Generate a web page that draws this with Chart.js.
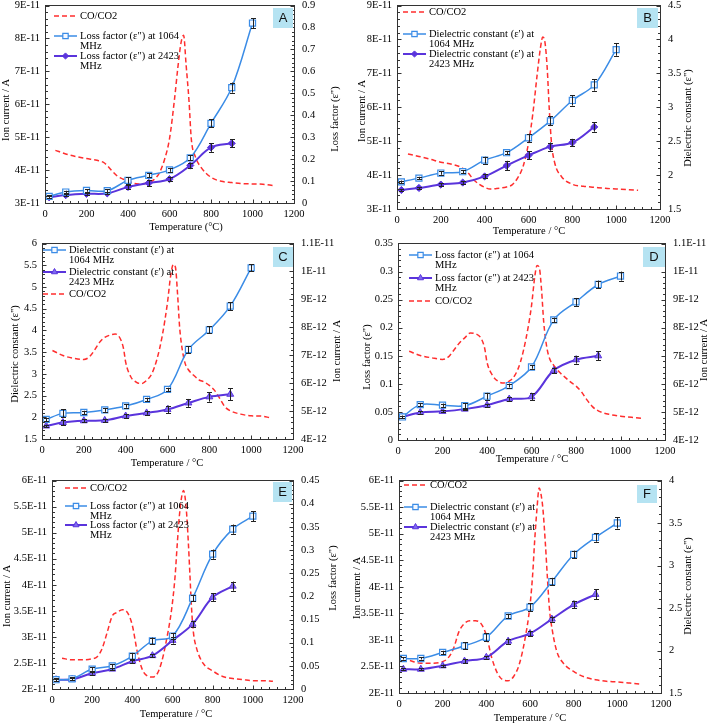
<!DOCTYPE html>
<html>
<head>
<meta charset="utf-8">
<script src="https://cdn.jsdelivr.net/npm/chart.js@4.4.0/dist/chart.umd.min.js"></script>
<style>
  body { margin: 0; background: #fff; width: 709px; height: 725px; position: relative; overflow: hidden; }
  .panel { position: absolute; }
</style>
</head>
<body>
<script>
// Temperatures of the dielectric measurements (°C)
const tempHigh = [20, 100, 200, 300, 400, 500, 600, 700, 800, 900, 1000];
const tempLow = [20, 100, 200, 300, 400, 500, 600, 700, 800, 900];

// Panel A - ion current x1E-11 A, loss factor
const coTempA = [50, 100, 150, 200, 250, 280, 300, 325, 350, 375, 400, 450, 500, 525, 550, 575, 600, 625, 640, 655, 668, 680, 694, 705, 725, 750, 800, 850, 900, 950, 1000, 1050, 1100];
const coA = [4.60, 4.49, 4.41, 4.35, 4.30, 4.24, 4.14, 3.96, 3.81, 3.73, 3.66, 3.58, 3.62, 3.71, 3.90, 4.30, 4.95, 6.20, 7.10, 7.85, 8.10, 7.20, 6.10, 4.95, 4.40, 4.10, 3.78, 3.66, 3.62, 3.59, 3.58, 3.57, 3.53];
const lossHighA = [0.030, 0.050, 0.057, 0.056, 0.103, 0.126, 0.151, 0.206, 0.363, 0.526, 0.820];
const lossHighErrA = [0.006, 0.006, 0.006, 0.006, 0.015, 0.009, 0.009, 0.012, 0.018, 0.023, 0.023];
const lossLowA = [0.026, 0.036, 0.042, 0.044, 0.073, 0.091, 0.109, 0.171, 0.253, 0.272];
const lossLowErrA = [0.005, 0.005, 0.005, 0.005, 0.009, 0.015, 0.009, 0.012, 0.020, 0.018];

// Panel B - ion current x1E-11 A, dielectric constant
const coTempB = [50, 100, 150, 200, 250, 300, 325, 350, 375, 400, 425, 450, 500, 525, 550, 575, 600, 620, 640, 655, 665, 675, 685, 695, 705, 720, 750, 800, 850, 900, 950, 1000, 1050, 1100];
const coB = [4.62, 4.55, 4.47, 4.38, 4.32, 4.20, 4.06, 3.86, 3.73, 3.64, 3.59, 3.60, 3.65, 3.71, 3.91, 4.25, 4.94, 5.82, 6.99, 7.77, 8.07, 7.92, 7.19, 5.92, 4.94, 4.35, 3.96, 3.73, 3.67, 3.64, 3.61, 3.59, 3.57, 3.55];
const dielHighB = [1.90, 1.955, 2.03, 2.05, 2.22, 2.33, 2.55, 2.80, 3.10, 3.33, 3.85];
const dielHighErrB = [0.02, 0.02, 0.025, 0.025, 0.05, 0.025, 0.06, 0.065, 0.075, 0.085, 0.09];
const dielLowB = [1.78, 1.81, 1.86, 1.89, 1.98, 2.14, 2.29, 2.42, 2.48, 2.71];
const dielLowErrB = [0.015, 0.015, 0.02, 0.02, 0.03, 0.07, 0.06, 0.06, 0.05, 0.07];

// Panel C - dielectric constant, ion current x1E-12 A
const coTempC = [50, 100, 150, 200, 225, 250, 275, 300, 325, 350, 375, 390, 400, 425, 450, 475, 500, 525, 550, 575, 600, 615, 628, 638, 648, 658, 670, 685, 700, 725, 750, 775, 800, 825, 850, 875, 900, 950, 1000, 1050, 1090];
const coC = [7.17, 6.99, 6.89, 6.85, 6.93, 7.17, 7.46, 7.64, 7.72, 7.76, 7.58, 7.23, 6.75, 6.22, 6.04, 5.98, 6.10, 6.34, 6.87, 7.70, 8.89, 9.84, 10.25, 10.15, 9.20, 8.00, 7.23, 6.69, 6.48, 6.28, 6.12, 6.04, 5.92, 5.74, 5.45, 5.15, 5.01, 4.89, 4.83, 4.82, 4.76];
const dielHighC = [1.95, 2.09, 2.11, 2.17, 2.26, 2.41, 2.64, 3.56, 4.01, 4.56, 5.44];
const dielHighErrC = [0.04, 0.09, 0.04, 0.045, 0.04, 0.04, 0.04, 0.08, 0.08, 0.09, 0.08];
const dielLowC = [1.80, 1.88, 1.92, 1.93, 2.03, 2.10, 2.18, 2.33, 2.47, 2.53];
const dielLowErrC = [0.03, 0.06, 0.04, 0.04, 0.04, 0.04, 0.09, 0.09, 0.11, 0.14];

// Panel D - loss factor, ion current x1E-12 A
const coTempD = [50, 100, 150, 200, 225, 250, 275, 300, 325, 350, 375, 390, 400, 425, 450, 475, 500, 525, 550, 575, 600, 615, 625, 635, 645, 655, 670, 685, 700, 725, 750, 775, 800, 825, 850, 875, 900, 950, 1000, 1050, 1100];
const coD = [7.16, 7.01, 6.93, 6.87, 6.95, 7.19, 7.45, 7.64, 7.81, 7.78, 7.60, 7.25, 6.77, 6.30, 6.09, 6.03, 6.10, 6.30, 6.77, 7.60, 8.78, 9.84, 10.22, 10.14, 9.37, 8.19, 7.25, 6.83, 6.66, 6.42, 6.24, 6.07, 5.92, 5.71, 5.42, 5.18, 5.04, 4.91, 4.85, 4.81, 4.77];
const lossHighD = [0.041, 0.063, 0.062, 0.061, 0.078, 0.097, 0.130, 0.214, 0.246, 0.277, 0.292];
const lossHighErrD = [0.0025, 0.003, 0.003, 0.005, 0.006, 0.0035, 0.003, 0.004, 0.007, 0.007, 0.008];
const lossLowD = [0.041, 0.049, 0.051, 0.055, 0.062, 0.073, 0.077, 0.124, 0.143, 0.150];
const lossLowErrD = [0.002, 0.002, 0.002, 0.002, 0.0025, 0.003, 0.006, 0.005, 0.007, 0.008];

// Panel E - ion current x1E-11 A, loss factor
const coTempE = [50, 100, 150, 200, 225, 250, 275, 300, 325, 350, 375, 400, 425, 450, 475, 500, 525, 546, 568, 596, 613, 624, 637, 655, 669, 679, 687, 695, 704, 720, 753, 803, 850, 900, 950, 1000, 1050, 1100];
const coE = [2.59, 2.56, 2.56, 2.58, 2.62, 2.78, 3.09, 3.40, 3.47, 3.52, 3.47, 3.22, 2.71, 2.37, 2.25, 2.23, 2.30, 2.52, 2.90, 3.54, 4.17, 4.80, 5.43, 5.81, 5.43, 4.80, 4.17, 3.54, 3.09, 2.78, 2.49, 2.34, 2.24, 2.20, 2.18, 2.16, 2.16, 2.15];
const lossHighE = [0.020, 0.022, 0.043, 0.050, 0.071, 0.104, 0.114, 0.196, 0.291, 0.345, 0.373];
const lossHighErrE = [0.003, 0.003, 0.0035, 0.004, 0.007, 0.007, 0.007, 0.007, 0.010, 0.010, 0.011];
const lossLowE = [0.020, 0.021, 0.034, 0.043, 0.060, 0.072, 0.105, 0.140, 0.198, 0.222];
const lossLowErrE = [0.002, 0.002, 0.003, 0.003, 0.0035, 0.0035, 0.007, 0.007, 0.0085, 0.010];

// Panel F - ion current x1E-11 A, dielectric constant
const coTempF = [50, 100, 150, 200, 225, 250, 275, 300, 325, 350, 375, 400, 425, 450, 475, 500, 525, 550, 575, 600, 612, 621, 632, 642, 650, 659, 670, 679, 689, 703, 723, 753, 806, 850, 900, 950, 1000, 1050, 1100];
const coF = [2.61, 2.56, 2.56, 2.59, 2.66, 2.84, 3.16, 3.31, 3.36, 3.36, 3.31, 3.09, 2.66, 2.38, 2.25, 2.23, 2.31, 2.53, 2.97, 3.65, 4.22, 4.84, 5.47, 5.86, 5.75, 5.47, 4.84, 4.22, 3.59, 3.16, 2.78, 2.56, 2.39, 2.30, 2.25, 2.22, 2.21, 2.19, 2.17];
const dielHighF = [1.906, 1.906, 1.977, 2.055, 2.156, 2.406, 2.51, 2.81, 3.13, 3.33, 3.50];
const dielHighErrF = [0.012, 0.012, 0.02, 0.04, 0.045, 0.025, 0.045, 0.045, 0.045, 0.05, 0.065];
const dielLowF = [1.78, 1.78, 1.82, 1.875, 1.92, 2.11, 2.20, 2.37, 2.54, 2.66];
const dielLowErrF = [0.012, 0.012, 0.015, 0.025, 0.015, 0.03, 0.03, 0.03, 0.045, 0.06];

const lossHighText = ['Loss factor (ε") at 1064', 'MHz'];
const lossLowText = ['Loss factor (ε") at 2423', 'MHz'];
const dielHighText = ['Dielectric constant (ε\') at', '1064 MHz'];
const dielLowText = ['Dielectric constant (ε\') at', '2423 MHz'];

const SERIF = "'Liberation Serif', 'Times New Roman', serif";
const SANS = "'Liberation Sans', Arial, sans-serif";
const RED = '#ff2e2e';
const BLUE = '#3b8ce6';
const PURPLE = '#5a34dc';

// Excel-like tick label formats
function sci(v) {
  if (Math.abs(v) < 1e-30) return '0';
  let e = Math.floor(Math.log10(v));
  let m = Math.round(v / Math.pow(10, e) * 100) / 100;
  if (m >= 10) { m = m / 10; e += 1; }
  return m + 'E' + e;
}
const plain = v => String(+Number(v).toFixed(4));
const ion = unit => v => sci(v * unit);

const panels = [
  { letter: 'A', canvas: [0, 0, 352, 238], area: [45, 5, 294, 203], ionSide: 'left',
    left: { min: 3, max: 9, step: 1, fmt: ion(1e-11) }, right: { min: 0, max: 0.9, step: 0.1, fmt: plain },
    coT: coTempA, co: coA, hi: lossHighA, hiErr: lossHighErrA, lo: lossLowA, loErr: lossLowErrA, loMarker: 'rectRot',
    box: [273, 8, 20, 20],
    titles: { left: ['Ion current / A', 6, 110], right: ['Loss factor (ε")', 335, 119], bottom: ['Temperature (°C)', 186, 227] },
    legendX: [54, 77, 80], legend: [[0, ['CO/CO2'], 16], [1, lossHighText, 36], [2, lossLowText, 56]] },
  { letter: 'B', canvas: [352, 0, 357, 238], area: [397, 5, 660, 209], ionSide: 'left',
    left: { min: 3, max: 9, step: 1, fmt: ion(1e-11) }, right: { min: 1.5, max: 4.5, step: 0.5, fmt: plain },
    coT: coTempB, co: coB, hi: dielHighB, hiErr: dielHighErrB, lo: dielLowB, loErr: dielLowErrB, loMarker: 'rectRot',
    box: [637, 8, 21, 20],
    titles: { left: ['Ion current / A', 362, 111], right: ['Dielectric constant (ε")', 688, 118], bottom: ['Temperature / °C', 529, 231] },
    legendX: [403, 426, 429], legend: [[0, ['CO/CO2'], 12], [1, dielHighText, 34], [2, dielLowText, 54]] },
  { letter: 'C', canvas: [0, 238, 352, 237], area: [42, 242, 293, 439], ionSide: 'right',
    left: { min: 1.5, max: 6, step: 0.5, fmt: plain }, right: { min: 4, max: 11, step: 1, fmt: ion(1e-12) },
    coT: coTempC, co: coC, hi: dielHighC, hiErr: dielHighErrC, lo: dielLowC, loErr: dielLowErrC, loMarker: 'triangle',
    box: [273, 247, 20, 20],
    titles: { left: ['Dielectric constant (ε")', 15, 354], right: ['Ion current / A', 337, 351], bottom: ['Temperature / °C', 167, 463] },
    legendX: [43, 66, 69], legend: [[1, dielHighText, 250], [2, dielLowText, 272], [0, ['CO/CO2'], 294]] },
  { letter: 'D', canvas: [352, 238, 357, 237], area: [398, 242, 665, 440], ionSide: 'right',
    left: { min: 0, max: 0.35, step: 0.05, fmt: plain }, right: { min: 4, max: 11, step: 1, fmt: ion(1e-12) },
    coT: coTempD, co: coD, hi: lossHighD, hiErr: lossHighErrD, lo: lossLowD, loErr: lossLowErrD, loMarker: 'triangle',
    box: [643, 247, 22, 20],
    titles: { left: ['Loss factor (ε")', 367, 357], right: ['Ion current / A', 704, 350], bottom: ['Temperature / °C', 532, 459] },
    legendX: [409, 432, 435], legend: [[1, lossHighText, 255], [2, lossLowText, 278], [0, ['CO/CO2'], 301]] },
  { letter: 'E', canvas: [0, 475, 352, 250], area: [52, 478, 293, 689], ionSide: 'left',
    left: { min: 2, max: 6, step: 0.5, fmt: ion(1e-11) }, right: { min: 0, max: 0.45, step: 0.05, fmt: plain },
    coT: coTempE, co: coE, hi: lossHighE, hiErr: lossHighErrE, lo: lossLowE, loErr: lossLowErrE, loMarker: 'triangle',
    box: [273, 482, 19, 20],
    titles: { left: ['Ion current / A', 7, 596], right: ['Loss factor (ε")', 333, 578], bottom: ['Temperature / °C', 176, 714] },
    legendX: [65, 87, 90], legend: [[0, ['CO/CO2'], 488], [1, lossHighText, 506], [2, lossLowText, 525]] },
  { letter: 'F', canvas: [352, 475, 357, 250], area: [399, 480, 661, 693], ionSide: 'left',
    left: { min: 2, max: 6, step: 0.5, fmt: ion(1e-11) }, right: { min: 1.5, max: 4, step: 0.5, fmt: plain },
    coT: coTempF, co: coF, hi: dielHighF, hiErr: dielHighErrF, lo: dielLowF, loErr: dielLowErrF, loMarker: 'triangle',
    box: [637, 485, 20, 18],
    titles: { left: ['Ion current / A', 357, 588], right: ['Dielectric constant (ε")', 688, 586], bottom: ['Temperature / °C', 530, 718] },
    legendX: [404, 427, 430], legend: [[0, ['CO/CO2'], 485], [1, dielHighText, 507], [2, dielLowText, 527]] }
];

// Error bars for datasets that carry an "errors" array
const errorBars = {
  id: 'errorBars',
  afterDatasetsDraw(chart) {
    const ctx = chart.ctx;
    chart.data.datasets.forEach((ds, di) => {
      if (!ds.errors) return;
      const meta = chart.getDatasetMeta(di);
      const sc = chart.scales[ds.yAxisID];
      ctx.save();
      ctx.strokeStyle = '#222';
      ctx.lineWidth = 1;
      meta.data.forEach((pt, i) => {
        const v = ds.data[i].y, e = ds.errors[i];
        const y1 = sc.getPixelForValue(v + e), y2 = sc.getPixelForValue(v - e);
        const x = Math.round(pt.x) + 0.5;
        ctx.beginPath();
        ctx.moveTo(x, y1); ctx.lineTo(x, y2);
        ctx.moveTo(x - 2.5, Math.round(y1) + 0.5); ctx.lineTo(x + 2.5, Math.round(y1) + 0.5);
        ctx.moveTo(x - 2.5, Math.round(y2) + 0.5); ctx.lineTo(x + 2.5, Math.round(y2) + 0.5);
        ctx.stroke();
      });
      ctx.restore();
    });
  }
};

// Frame, inward ticks, axis titles, legend and panel letter
const decor = {
  id: 'decor',
  afterDraw(chart, args, opts) {
    const p = opts.panel;
    if (!p) return;
    const ctx = chart.ctx;
    const ox = p.canvas[0], oy = p.canvas[1];
    const a = chart.chartArea;
    const L = Math.floor(a.left) + 0.5, R = Math.floor(a.right) + 0.5;
    const T = Math.floor(a.top) + 0.5, B = Math.floor(a.bottom) + 0.5;
    ctx.save();
    ctx.strokeStyle = '#333';
    ctx.lineWidth = 1;
    ctx.strokeRect(L, T, R - L, B - T);

    // minor ticks = major / 5, as Excel does
    ctx.beginPath();
    const tick = (scale, min, max, step, draw) => {
      const minor = step / 5, n = Math.round((max - min) / minor);
      for (let k = 0; k <= n; k++) {
        const px = Math.round(scale.getPixelForValue(min + k * minor)) + 0.5;
        draw(px, k % 5 === 0 ? 4 : 2.5);
      }
    };
    tick(chart.scales.x, 0, 1200, 200, (px, len) => { ctx.moveTo(px, B); ctx.lineTo(px, B - len); });
    tick(chart.scales.yL, p.left.min, p.left.max, p.left.step, (py, len) => { ctx.moveTo(L, py); ctx.lineTo(L + len, py); });
    tick(chart.scales.yR, p.right.min, p.right.max, p.right.step, (py, len) => { ctx.moveTo(R, py); ctx.lineTo(R - len, py); });
    ctx.stroke();

    // axis titles
    ctx.fillStyle = '#000';
    ctx.font = '10.5px ' + SERIF;
    ctx.textAlign = 'center';
    ctx.textBaseline = 'middle';
    ['left', 'right'].forEach(side => {
      const [txt, x, y] = p.titles[side];
      ctx.save();
      ctx.translate(x - ox, y - oy);
      ctx.rotate(-Math.PI / 2);
      ctx.fillText(txt, 0, 0);
      ctx.restore();
    });
    const [bt, bx, by] = p.titles.bottom;
    ctx.fillText(bt, bx - ox, by - oy);

    // legend
    const [x1, x2, xt] = p.legendX.map(v => v - ox);
    ctx.font = '10.5px ' + SERIF;
    ctx.textAlign = 'left';
    p.legend.forEach(([di, lines, y]) => {
      const ds = chart.data.datasets[di];
      const yy = y - oy;
      ctx.save();
      ctx.strokeStyle = ds.borderColor;
      ctx.lineWidth = ds.borderWidth;
      ctx.setLineDash(ds.borderDash || []);
      ctx.beginPath(); ctx.moveTo(x1, yy); ctx.lineTo(x2, yy); ctx.stroke();
      ctx.restore();
      if (ds.pointRadius > 0) {
        ctx.save();
        ctx.fillStyle = ds.pointBackgroundColor;
        ctx.strokeStyle = ds.pointBorderColor;
        ctx.lineWidth = ds.pointBorderWidth;
        Chart.helpers.drawPoint(ctx, { pointStyle: ds.pointStyle, radius: ds.pointRadius - 0.5, rotation: 0, borderWidth: ds.pointBorderWidth }, (x1 + x2) / 2, yy);
        ctx.restore();
      }
      ctx.fillStyle = '#000';
      lines.forEach((ln, i) => ctx.fillText(ln, xt, yy + i * 10));
    });

    // panel letter
    const [bx0, by0, bw, bh] = p.box;
    ctx.fillStyle = '#b5e3f2';
    ctx.fillRect(bx0 - ox, by0 - oy, bw, bh);
    ctx.fillStyle = '#111';
    ctx.font = '13px ' + SANS;
    ctx.textAlign = 'center';
    ctx.fillText(p.letter, bx0 - ox + bw / 2, by0 - oy + bh / 2 + 0.5);
    ctx.restore();
  }
};

Chart.defaults.font.family = SERIF;
Chart.defaults.font.size = 10.5;
Chart.defaults.color = '#000';
Chart.defaults.animation = false;

panels.forEach(p => {
  const [cx, cy, cw, ch] = p.canvas;
  const [L, T, R, B] = p.area;
  const div = document.createElement('div');
  div.className = 'panel';
  div.style.cssText = `left:${cx}px;top:${cy}px;width:${cw}px;height:${ch}px`;
  const canvas = document.createElement('canvas');
  div.appendChild(canvas);
  document.body.appendChild(div);

  const ionAxis = p.ionSide === 'left' ? 'yL' : 'yR';
  const valAxis = p.ionSide === 'left' ? 'yR' : 'yL';
  const tri = p.loMarker === 'triangle';

  const yScale = (s, pos, width, pad) => ({
    type: 'linear', position: pos, min: s.min, max: s.max,
    ticks: { stepSize: s.step, callback: s.fmt, padding: pad, autoSkip: false },
    grid: { display: false, drawTicks: false }, border: { display: false },
    afterFit(scale) { scale.width = width; scale.paddingTop = 0; scale.paddingBottom = 0; }
  });

  new Chart(canvas, {
    type: 'line',
    data: {
      datasets: [
        { label: 'CO/CO2', data: p.coT.map((t, i) => ({ x: t, y: p.co[i] })), yAxisID: ionAxis,
          borderColor: RED, borderDash: [5, 3], borderWidth: 1.5, pointRadius: 0,
          cubicInterpolationMode: 'monotone', order: 3 },
        { label: '1064 MHz', data: tempHigh.map((t, i) => ({ x: t, y: p.hi[i] })), errors: p.hiErr, yAxisID: valAxis,
          borderColor: BLUE, borderWidth: 1.5, tension: 0.35,
          pointStyle: 'rect', pointRadius: 4.3, pointBackgroundColor: '#f4f8ff', pointBorderColor: BLUE, pointBorderWidth: 1.2 },
        { label: '2423 MHz', data: tempLow.map((t, i) => ({ x: t, y: p.lo[i] })), errors: p.loErr, yAxisID: valAxis,
          borderColor: PURPLE, borderWidth: 2, tension: 0.35,
          pointStyle: p.loMarker, pointRadius: tri ? 4 : 3.6,
          pointBackgroundColor: tri ? '#7f6af0' : '#5a34dc', pointBorderColor: PURPLE, pointBorderWidth: 1 }
      ]
    },
    options: {
      responsive: true,
      maintainAspectRatio: false,
      layout: { padding: { top: T - cy, left: 0, right: 0, bottom: 0 } },
      plugins: { legend: { display: false }, tooltip: { enabled: false }, decor: { panel: p } },
      scales: {
        x: {
          type: 'linear', min: 0, max: 1200,
          ticks: { stepSize: 200, callback: plain, padding: 5, maxRotation: 0, autoSkip: false },
          grid: { display: false, drawTicks: false }, border: { display: false },
          afterFit(scale) { scale.height = cy + ch - B; scale.paddingLeft = 0; scale.paddingRight = 0; }
        },
        yL: yScale(p.left, 'left', L - cx, 5),
        yR: yScale(p.right, 'right', cx + cw - R, 8)
      }
    },
    plugins: [errorBars, decor]
  });
});
</script>
</body>
</html>
